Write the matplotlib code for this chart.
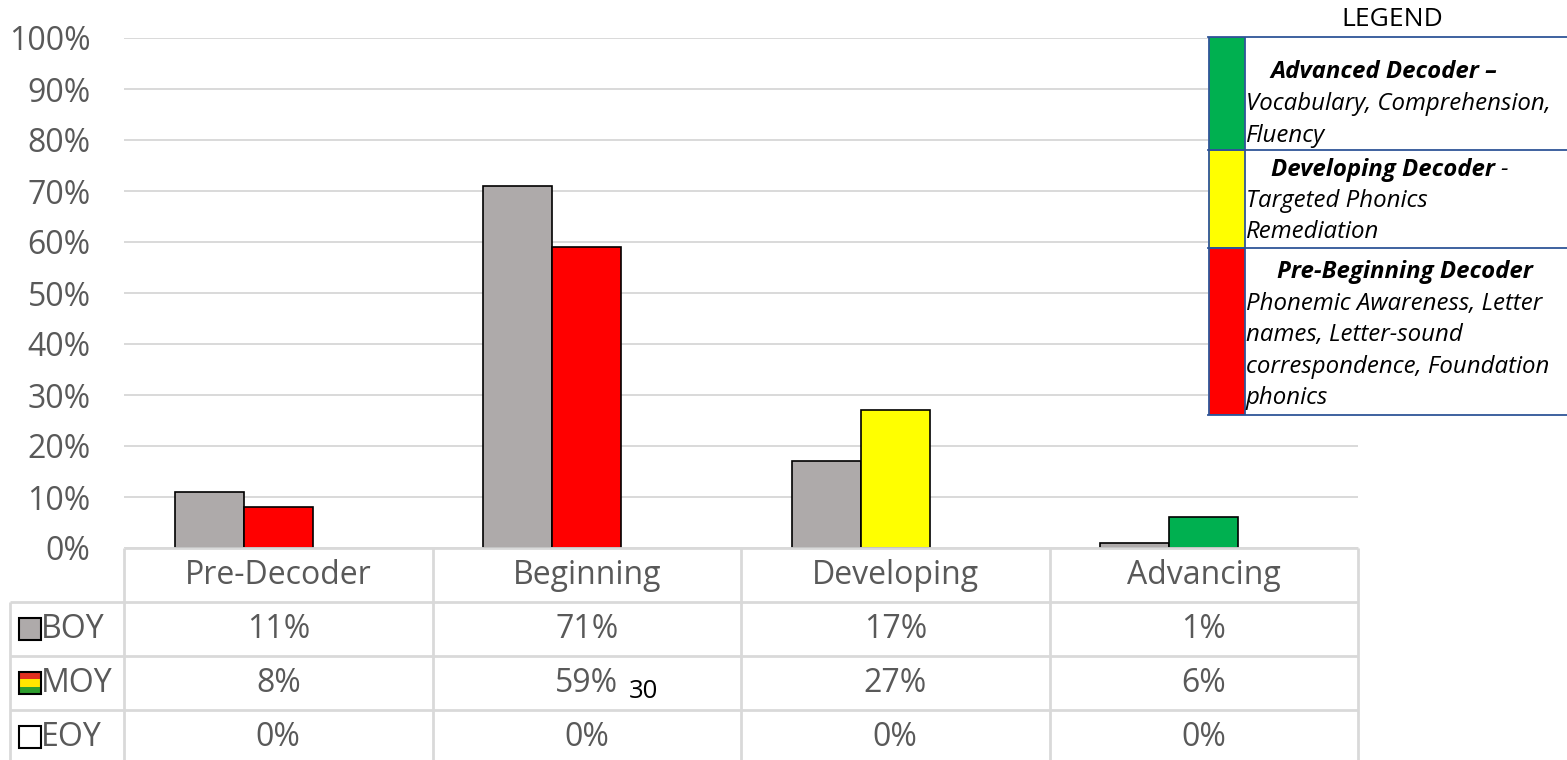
import matplotlib
matplotlib.use("Agg")
import matplotlib.pyplot as plt
from matplotlib.patches import Rectangle

# ---------------- data ----------------
categories = ["Pre-Decoder", "Beginning", "Developing", "Advancing"]
series_names = ["BOY", "MOY", "EOY"]
boy = [11, 71, 17, 1]
moy = [8, 59, 27, 6]
eoy = [0, 0, 0, 0]
boy_color = "#AEAAAA"
moy_colors = ["#FF0000", "#FF0000", "#FFFF00", "#00B050"]
eoy_color = "#FFFFFF"
yticks = [0, 10, 20, 30, 40, 50, 60, 70, 80, 90, 100]
ytick_labels = [f"{v}%" for v in yticks]

legend_title = "LEGEND"
legend_colors = ["#00B050", "#FFFF00", "#FF0000"]

# ---------------- layout ----------------
W, H = 1567, 760
fig = plt.figure(figsize=(W / 100, H / 100), dpi=100)
plt.rcParams["font.family"] = ["Open Sans", "DejaVu Sans"]
GRAY = "#595959"
GRID = "#D9D9D9"
FS = 23

def fx(px):
    return px / W

def fy(py):
    return 1 - py / H

ax_l, ax_r, ax_t, ax_b = 124, 1358, 38, 548
ax = fig.add_axes([fx(ax_l), fy(ax_b), fx(ax_r - ax_l), (ax_b - ax_t) / H])
ax.set_xlim(-0.5, len(categories) - 0.5)
ax.set_ylim(0, 100)
ax.set_yticks(yticks)
ax.set_yticklabels(ytick_labels, fontsize=FS, color=GRAY)
ax.tick_params(axis="y", length=0, pad=24)
ax.set_xticks([])
for s in ax.spines.values():
    s.set_visible(False)
ax.grid(axis="y", color=GRID, lw=1.4)
ax.set_axisbelow(True)

bw = 0.224
xs = list(range(len(categories)))
ax.bar([x - bw for x in xs], boy, width=bw, color=boy_color, edgecolor="black", lw=1.2, zorder=3)
ax.bar(xs, moy, width=bw, color=moy_colors, edgecolor="black", lw=1.2, zorder=3)
ax.bar([x + bw for x in xs], eoy, width=bw, color=eoy_color, edgecolor="black", lw=0, zorder=3)

# ---------------- data table ----------------
row_h = 54
tax = fig.add_axes([fx(ax_l), fy(ax_b + 4 * row_h), fx(ax_r - ax_l), 4 * row_h / H], sharex=ax)
tax.set_ylim(4, 0)
tax.axis("off")
upx = (len(categories)) / (ax_r - ax_l)  # data units per pixel (x)
xl = -0.5 - (ax_l - 10) * upx
xr = len(categories) - 0.5
lk = dict(color=GRID, lw=2, clip_on=False, solid_capstyle="butt")
tax.plot([-0.5, xr], [0, 0], **lk)
for r in range(1, 5):
    tax.plot([xl, xr], [r, r], **lk)
for c in range(len(categories) + 1):
    tax.plot([c - 0.5, c - 0.5], [0, 4], **lk)
tax.plot([xl, xl], [1, 4], **lk)

for i, cat in enumerate(categories):
    tax.text(i, 0.5, cat, ha="center", va="center", fontsize=FS, color=GRAY)
rows = [boy, moy, eoy]
for r, vals in enumerate(rows):
    for i, v in enumerate(vals):
        tax.text(i, r + 1.5, f"{v}%", ha="center", va="center", fontsize=FS, color=GRAY)

sq = 22 * upx
sqh = 22 / row_h
sx = -0.5 - (ax_l - 19) * upx
for r, name in enumerate(series_names):
    yc = r + 1.5
    y0 = yc - sqh / 2
    if name == "BOY":
        tax.add_patch(Rectangle((sx, y0), sq, sqh, facecolor=boy_color, edgecolor="black", lw=1.5, clip_on=False))
    elif name == "MOY":
        stripe = ["#E03020", "#FFE600", "#2E9E2E"]
        for k, col in enumerate(stripe):
            tax.add_patch(Rectangle((sx, y0 + k * sqh / 3), sq, sqh / 3, facecolor=col, lw=0, clip_on=False))
        tax.add_patch(Rectangle((sx, y0), sq, sqh, facecolor="none", edgecolor="black", lw=1.5, clip_on=False))
    else:
        tax.add_patch(Rectangle((sx, y0), sq, sqh, facecolor=eoy_color, edgecolor="black", lw=1.5, clip_on=False))
    tax.text(sx + sq, yc, name, ha="left", va="center", fontsize=FS, color=GRAY, clip_on=False)

# stray "30" annotation
tax.text(1 + 57 * upx, 2.66, "30", ha="center", va="center", fontsize=18.5, color="black")

# ---------------- custom legend box ----------------
lg_l, lg_r, lg_t, lg_b = 1208, 1567, 37, 415
lax = fig.add_axes([fx(lg_l), fy(lg_b), fx(lg_r - lg_l), (lg_b - lg_t) / H])
lax.set_xlim(lg_l, lg_r)
lax.set_ylim(lg_b, lg_t)
lax.axis("off")
lax.add_patch(Rectangle((lg_l, lg_t), lg_r - lg_l, lg_b - lg_t, facecolor="white", lw=0, zorder=0))
bounds = [37, 150, 248, 415]
BLUE = "#2F5597"
for k, col in enumerate(legend_colors):
    lax.add_patch(Rectangle((lg_l + 1, bounds[k]), 36, bounds[k + 1] - bounds[k],
                            facecolor=col, edgecolor=BLUE, lw=1.3, zorder=2))
for b in bounds:
    lax.plot([lg_l, lg_r], [b, b], color=BLUE, lw=1.3, zorder=3, clip_on=False)

fig.text(fx(1392), fy(20), legend_title, ha="center", va="center", fontsize=19, color="black")

LFS = 17.3
tx = 1246
lax.text(1270, 72, "Advanced Decoder –", fontsize=LFS, style="italic", weight="bold", va="center", ha="left")
lax.text(tx, 104, "Vocabulary, Comprehension,", fontsize=LFS, style="italic", va="center", ha="left")
lax.text(tx, 136, "Fluency", fontsize=LFS, style="italic", va="center", ha="left")
t = lax.text(1271, 170, "Developing Decoder", fontsize=LFS, style="italic", weight="bold", va="center", ha="left")
fig.canvas.draw()
bb = t.get_window_extent()
inv = lax.transData.inverted()
xend = inv.transform((bb.x1, bb.y0))[0]
lax.text(xend + 5, 170, "-", fontsize=LFS, style="italic", va="center", ha="left")
lax.text(tx, 201, "Targeted Phonics", fontsize=LFS, style="italic", va="center", ha="left")
lax.text(tx, 232, "Remediation", fontsize=LFS, style="italic", va="center", ha="left")
lax.text(1277, 272, "Pre-Beginning Decoder", fontsize=LFS, style="italic", weight="bold", va="center", ha="left")
lax.text(tx, 304, "Phonemic Awareness, Letter", fontsize=LFS, style="italic", va="center", ha="left")
lax.text(tx, 335, "names, Letter-sound", fontsize=LFS, style="italic", va="center", ha="left")
lax.text(tx, 367, "correspondence, Foundation", fontsize=LFS, style="italic", va="center", ha="left")
lax.text(tx, 398, "phonics", fontsize=LFS, style="italic", va="center", ha="left")

fig.savefig("out.png", dpi=100)
